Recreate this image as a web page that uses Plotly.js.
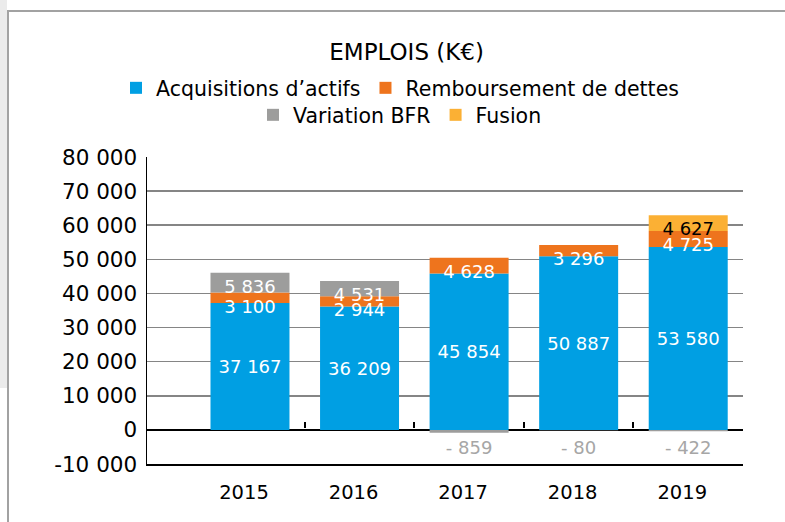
<!DOCTYPE html>
<html>
<head>
<meta charset="utf-8">
<script src="https://cdn.plot.ly/plotly-3.0.1.min.js"></script>
<style>
  html, body { margin: 0; padding: 0; background: #ffffff; }
  #wrap { position: relative; width: 785px; height: 522px; overflow: hidden; }
  #strip { position: absolute; left: 0; top: 0; width: 7px; height: 388px; background: #ebebeb; }
  #frame { position: absolute; left: 7px; top: 10px; width: 800px; height: 540px;
           border-top: 2px solid #a2a2a2; border-left: 2px solid #a2a2a2; }
  #chart { position: absolute; left: 0; top: 0; width: 785px; height: 522px; }
</style>
</head>
<body>
<div id="wrap">
  <div id="strip"></div>
  <div id="frame"></div>
  <div id="chart"></div>
</div>
<script>
// ---- data ----
const years = ['2015', '2016', '2017', '2018', '2019'];
const acquisitions = [37167, 36209, 45854, 50887, 53580];
const remboursement = [3100, 2944, 4628, 3296, 4725];
const variationBFR = [5836, 4531, -859, -80, -422];
const fusion = [null, null, null, null, 4627];
const seriesNames = ['Acquisitions d\u2019actifs', 'Remboursement de dettes', 'Variation BFR', 'Fusion'];
const yTickVals = [-10000, 0, 10000, 20000, 30000, 40000, 50000, 60000, 70000, 80000];
const yTickText = ['-10 000', '0', '10 000', '20 000', '30 000', '40 000', '50 000', '60 000', '70 000', '80 000'];

// ---- helpers ----
function group(n) { return String(Math.abs(n)).replace(/\B(?=(\d{3})+(?!\d))/g, ' '); }
function fmt(v) { return v == null ? '' : (v < 0 ? '- ' : '') + group(v); }

const FONT = 'DejaVu Sans, sans-serif';
const colors = ['#009fe3', '#ee741d', '#9d9d9c', '#fbb034'];

function barTrace(name, vals, color, textColor, legendId, anchor) {
  return {
    type: 'bar', name: name, x: years, y: vals,
    marker: { color: color, line: { width: 0 } },
    text: vals.map(v => (v != null && v > 0) ? fmt(v) : ''),
    textposition: 'inside',
    insidetextanchor: anchor,
    constraintext: 'none',
    textangle: 0,
    insidetextfont: { family: FONT, size: 18, color: textColor },
    hoverinfo: 'x+y+name',
    legend: legendId
  };
}

// labels of negative values, written under the zero line
const negX = [], negY = [], negText = [];
variationBFR.forEach((v, i) => {
  if (v < 0) { negX.push(years[i]); negY.push(0); negText.push(fmt(v)); }
});

const traces = [
  barTrace(seriesNames[0], acquisitions, colors[0], '#ffffff', 'legend', 'middle'),
  barTrace(seriesNames[1], remboursement, colors[1], '#ffffff', 'legend', 'end'),
  barTrace(seriesNames[2], variationBFR, colors[2], '#ffffff', 'legend2', 'end'),
  barTrace(seriesNames[3], fusion, colors[3], '#000000', 'legend2', 'end'),
  {
    type: 'scatter', mode: 'markers+text', x: negX, y: negY, text: negText,
    marker: { size: 15, color: 'rgba(0,0,0,0)', line: { width: 0 } },
    textposition: 'bottom center', cliponaxis: false,
    textfont: { family: FONT, size: 18, color: '#a6a6a6' },
    showlegend: false, hoverinfo: 'skip'
  },
  { type: 'scatter', x: [], y: [], xaxis: 'x2', yaxis: 'y', showlegend: false, hoverinfo: 'skip' }
];

const layout = {
  width: 785, height: 522, autosize: false,
  margin: { l: 147, r: 42, t: 157, b: 58, pad: 0 },
  paper_bgcolor: 'rgba(0,0,0,0)', plot_bgcolor: 'rgba(0,0,0,0)',
  font: { family: FONT, color: '#000000' },
  separators: ', ',
  barmode: 'relative',
  bargap: 0.279,
  title: {
    text: 'EMPLOIS (K\u20ac)', font: { family: FONT, size: 23, color: '#000000' },
    x: 0.518, xanchor: 'center', xref: 'container',
    y: 0.9, yanchor: 'middle', yref: 'container'
  },
  xaxis: {
    type: 'category', range: [-0.94, 4.5], fixedrange: true,
    showline: true, linecolor: '#000000', linewidth: 1.5,
    showgrid: false, zeroline: false, ticks: '',
    tickfont: { family: FONT, size: 19.5, color: '#000000' },
    ticklabelstandoff: 10, ticklabelshift: -6
  },
  xaxis2: {
    type: 'linear', overlaying: 'x', anchor: 'free', position: 36 / 307,
    range: [-0.94, 4.5], fixedrange: true,
    showline: false, showgrid: false, zeroline: false, showticklabels: false,
    ticks: 'inside', ticklen: 6, tickwidth: 2, tickcolor: '#000000',
    tickmode: 'array', tickvals: [0.5, 1.5, 2.5, 3.5, 4.5]
  },
  yaxis: {
    range: [-10000, 80000], fixedrange: true,
    tickmode: 'array', tickvals: yTickVals, ticktext: yTickText,
    tickfont: { family: FONT, size: 21.5, color: '#000000' },
    ticks: '', ticklabelstandoff: 4,
    showline: true, linecolor: '#000000', linewidth: 1.5,
    showgrid: true, gridcolor: '#858585', gridwidth: 1.5,
    zeroline: true, zerolinecolor: '#000000', zerolinewidth: 2
  },
  legend: {
    orientation: 'h', x: (400 - 147) / 596, xanchor: 'center', xref: 'paper',
    y: (464 - 88) / 307, yanchor: 'middle', yref: 'paper',
    font: { family: FONT, size: 20.5, color: '#000000' },
    bgcolor: 'rgba(0,0,0,0)', itemwidth: 30, traceorder: 'normal'
  },
  legend2: {
    orientation: 'h', x: (400 - 147) / 596, xanchor: 'center', xref: 'paper',
    y: (464 - 115) / 307, yanchor: 'middle', yref: 'paper',
    font: { family: FONT, size: 20.5, color: '#000000' },
    bgcolor: 'rgba(0,0,0,0)', itemwidth: 30, traceorder: 'normal'
  },
  showlegend: true
};

Plotly.newPlot('chart', traces, layout, { displayModeBar: false, staticPlot: true });
</script>
</body>
</html>
